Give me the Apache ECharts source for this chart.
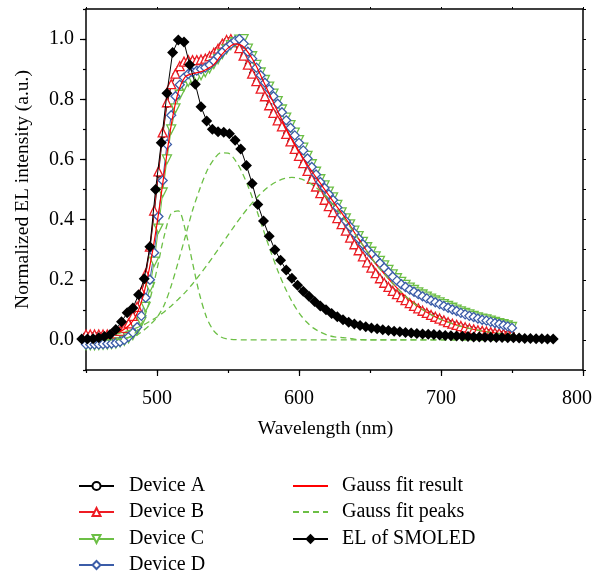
<!DOCTYPE html>
<html><head><meta charset="utf-8">
<script src="https://cdn.jsdelivr.net/npm/echarts@6/dist/echarts.min.js"></script>
<style>html,body{margin:0;padding:0;background:#fff}#c{width:596px;height:574px}</style>
</head><body><div id="c"></div>
<script>
// wavelength grid (nm) for device spectra, every 3 nm
var wlDev = [450,453,456,459,462,465,468,471,474,477,
480,483,486,489,492,495,498,501,504,507,
510,513,516,519,522,525,528,531,534,537,
540,543,546,549,552,555,558,561,564,567,
570,573,576,579,582,585,588,591,594,597,
600,603,606,609,612,615,618,621,624,627,
630,633,636,639,642,645,648,651,654,657,
660,663,666,669,672,675,678,681,684,687,
690,693,696,699,702,705,708,711,714,717,
720,723,726,729,732,735,738,741,744,747,
750];
var devA = [0.016,0.016,0.016,0.016,0.016,0.016,0.017,0.02,0.028,0.038,
0.052,0.076,0.106,0.155,0.214,0.303,0.42,0.55,0.68,0.782,
0.845,0.88,0.905,0.92,0.926,0.927,0.928,0.93,0.933,0.941,
0.952,0.966,0.982,0.994,0.998,0.99,0.97,0.944,0.914,0.884,
0.858,0.833,0.808,0.779,0.754,0.729,0.708,0.684,0.659,0.634,
0.611,0.587,0.561,0.534,0.509,0.487,0.465,0.444,0.424,0.404,
0.384,0.362,0.339,0.317,0.297,0.277,0.257,0.239,0.221,0.204,
0.189,0.175,0.162,0.151,0.141,0.131,0.121,0.112,0.104,0.096,
0.089,0.082,0.076,0.07,0.064,0.058,0.053,0.049,0.045,0.041,
0.037,0.034,0.031,0.029,0.027,0.025,0.023,0.021,0.02,0.019,
0.018];
var devB = [0.018,0.018,0.018,0.018,0.018,0.018,0.019,0.022,0.03,0.04,
0.055,0.08,0.11,0.16,0.22,0.31,0.43,0.56,0.69,0.79,
0.85,0.885,0.91,0.925,0.93,0.93,0.93,0.932,0.935,0.943,
0.955,0.968,0.985,0.997,1.0,0.99,0.97,0.945,0.915,0.885,
0.86,0.835,0.81,0.78,0.755,0.73,0.71,0.685,0.66,0.635,
0.612,0.588,0.562,0.535,0.51,0.488,0.466,0.445,0.425,0.405,
0.385,0.363,0.34,0.318,0.298,0.278,0.258,0.24,0.222,0.205,
0.19,0.176,0.163,0.152,0.142,0.132,0.122,0.113,0.105,0.097,
0.09,0.083,0.077,0.071,0.065,0.059,0.054,0.05,0.046,0.042,
0.038,0.035,0.032,0.03,0.028,0.026,0.024,0.022,0.021,0.02,
0.019];
var devC = [-0.018,-0.018,-0.018,-0.017,-0.016,-0.015,-0.014,-0.012,-0.008,-0.003,
0.005,0.016,0.032,0.06,0.11,0.175,0.26,0.37,0.49,0.6,
0.7,0.77,0.815,0.842,0.858,0.865,0.872,0.88,0.89,0.902,
0.917,0.933,0.95,0.966,0.98,0.99,0.998,1.0,0.968,0.943,
0.914,0.889,0.864,0.842,0.819,0.794,0.766,0.739,0.714,0.689,
0.664,0.639,0.612,0.584,0.559,0.534,0.514,0.493,0.474,0.449,
0.424,0.404,0.384,0.363,0.345,0.326,0.308,0.293,0.278,0.263,
0.248,0.233,0.218,0.205,0.193,0.183,0.174,0.166,0.158,0.151,
0.144,0.137,0.131,0.125,0.119,0.113,0.107,0.101,0.095,0.09,
0.085,0.08,0.075,0.071,0.068,0.064,0.06,0.056,0.052,0.048,
0.043];
var devD = [-0.015,-0.015,-0.015,-0.015,-0.014,-0.013,-0.012,-0.01,-0.006,0.0,
0.01,0.024,0.042,0.08,0.14,0.2,0.29,0.41,0.53,0.65,
0.747,0.81,0.848,0.872,0.884,0.89,0.895,0.9,0.905,0.914,
0.927,0.942,0.957,0.971,0.983,0.994,1.0,0.985,0.958,0.935,
0.905,0.88,0.855,0.833,0.81,0.785,0.757,0.73,0.705,0.68,
0.655,0.63,0.603,0.575,0.55,0.525,0.505,0.484,0.465,0.44,
0.415,0.395,0.376,0.355,0.337,0.318,0.3,0.285,0.27,0.255,
0.24,0.225,0.21,0.197,0.185,0.176,0.167,0.16,0.152,0.145,
0.138,0.131,0.125,0.119,0.113,0.107,0.101,0.096,0.09,0.085,
0.08,0.076,0.071,0.067,0.064,0.06,0.056,0.053,0.049,0.045,
0.04];
// Gauss fit grid, every 5 nm
var wlFit = [450,455,460,465,470,475,480,485,490,495,
500,505,510,515,520,525,530,535,540,545,
550,555,560,565,570,575,580,585,590,595,
600,605,610,615,620,625,630,635,640,645,
650,655,660,665,670,675,680,685,690,695,
700,705,710,715,720,725,730,735,740,745,
750];
var fitResult = [0.006,0.008,0.011,0.015,0.021,0.03,0.047,0.078,0.142,0.246,
0.386,0.552,0.714,0.824,0.875,0.885,0.89,0.9,0.915,0.945,
0.97,0.984,0.978,0.95,0.91,0.859,0.809,0.759,0.712,0.668,
0.627,0.589,0.554,0.521,0.487,0.454,0.422,0.388,0.35,0.315,
0.28,0.247,0.22,0.193,0.168,0.145,0.125,0.107,0.092,0.079,
0.068,0.059,0.051,0.044,0.038,0.033,0.029,0.025,0.022,0.019,
0.017];
var peak1 = [0,0,0,0,0.0005,0.002,0.008,0.025,0.063,0.134,
0.235,0.344,0.421,0.429,0.364,0.257,0.151,0.074,0.03,0.01,
0.003,0.001,0,0,0,0,0,0,0,0,
0,0,0,0,0,0,0,0,0,0,
0,0,0,0,0,0,0,0,0,0,
0,0,0,0,0,0,0,0,0,0,
0];
var peak2 = [0,0,0.001,0.001,0.002,0.004,0.008,0.014,0.03,0.05,
0.075,0.115,0.18,0.26,0.345,0.43,0.5,0.56,0.6,0.622,
0.621,0.598,0.556,0.5,0.434,0.364,0.295,0.231,0.175,0.128,
0.09,0.061,0.04,0.026,0.016,0.01,0.008,0.006,0.002,0.001,
0,0,0,0,0,0,0,0,0,0,
0,0,0,0,0,0,0,0,0,0,
0];
var peak3 = [0.006,0.008,0.01,0.014,0.018,0.024,0.031,0.039,0.049,0.062,
0.076,0.093,0.113,0.135,0.159,0.186,0.216,0.247,0.28,0.314,
0.348,0.382,0.414,0.444,0.471,0.495,0.514,0.528,0.537,0.54,
0.537,0.528,0.514,0.495,0.471,0.444,0.414,0.382,0.348,0.314,
0.28,0.247,0.22,0.193,0.168,0.145,0.125,0.107,0.092,0.079,
0.068,0.059,0.051,0.044,0.038,0.033,0.029,0.025,0.022,0.019,
0.017];
// EL of SMOLED, every 4 nm
var wlEL = [447,451,455,459,463,467,471,475,479,483,
487,491,495,499,503,507,511,515,519,523,
527,531,535,539,543,547,551,555,559,563,
567,571,575,579,583,587,591,595,599,603,
607,611,615,619,623,627,631,635,639,643,
647,651,655,659,663,667,671,675,679,683,
687,691,695,699,703,707,711,715,719,723,
727,731,735,739,743,747,751,755,759,763,
767,771,775,779];
var elSmoled = [0.003,0.003,0.004,0.007,0.011,0.018,0.035,0.06,0.09,0.106,
0.15,0.203,0.31,0.5,0.655,0.82,0.955,0.997,0.99,0.915,
0.85,0.775,0.728,0.7,0.692,0.69,0.685,0.664,0.635,0.58,
0.52,0.45,0.395,0.345,0.3,0.265,0.232,0.205,0.182,0.162,
0.145,0.128,0.113,0.1,0.088,0.077,0.067,0.059,0.053,0.048,
0.044,0.04,0.037,0.034,0.031,0.029,0.027,0.025,0.023,0.021,
0.02,0.019,0.018,0.016,0.015,0.014,0.013,0.012,0.011,0.01,
0.01,0.009,0.009,0.008,0.008,0.007,0.007,0.006,0.005,0.005,
0.004,0.004,0.003,0.003];
var xMajor = [500,600,700,800];
var yMajor = [0,0.2,0.4,0.6,0.8,1.0];
var legendCol1 = ['Device A','Device B','Device C','Device D'];
var legendCol2 = ['Gauss fit result','Gauss fit peaks','EL of SMOLED'];

function pairs(xs, ys){ return xs.map(function(x,i){ return [x, ys[i]]; }); }

var FONT = 'Liberation Serif';
var RED = '#ee1c24', GREEN = '#6cbf45', BLUE = '#3b5ca8';

function dev(name, ys, sym, color, size, rot){
  return { name: name, type:'line', data: pairs(wlDev, ys), symbol: sym, symbolSize: size,
    symbolRotate: rot || 0, showAllSymbol: true,
    itemStyle: { color:'#fff', borderColor: color, borderWidth: 1.3 },
    lineStyle: { color: color, width: 1 }, z: 2 };
}
function peak(ys){
  return { name:'Gauss fit peaks', type:'line', data: pairs(wlFit, ys), symbol:'none', smooth: 0.3,
    lineStyle: { color: GREEN, width: 1.3, type: [6,4] }, itemStyle:{color:GREEN}, z: 4 };
}

// one legend component per entry so rows sit exactly
var rowTops = [476, 502, 529, 555];
var legends = [];
legendCol1.forEach(function(n, i){
  legends.push({ data:[n], left: 78, top: rowTops[i], padding: 0, itemWidth: 35, itemHeight: 10,
    textStyle: { color:'#000', fontFamily: FONT, fontSize: 20, padding:[0,0,0,10] } });
});
legendCol2.forEach(function(n, i){
  var item = (n === 'EL of SMOLED') ? n : { name: n, itemStyle: { opacity: 0 } };
  legends.push({ data:[item], left: 292, top: rowTops[i], padding: 0, itemWidth: 35, itemHeight: 13,
    textStyle: { color:'#000', fontFamily: FONT, fontSize: 20, padding:[0,0,0,9] } });
});

var chart = echarts.init(document.getElementById('c'), null, {renderer:'canvas'});
chart.setOption({
  animation: false,
  backgroundColor: '#fff',
  grid: { left: 86, right: 13, top: 9, bottom: 204, containLabel: false, outerBoundsMode: 'none' },
  xAxis: [
    { type:'value', position:'bottom', min:450, max:800, interval:50,
      name:'Wavelength (nm)', nameLocation:'middle', nameGap: 49,
      nameTextStyle: { color:'#000', fontFamily: FONT, fontSize: 19.5, padding:[0,18,0,0] },
      axisLine: { show:true, onZero:false, lineStyle:{ color:'#000', width:1.5 } },
      axisTick: { show:true, customValues: xMajor, length: 6, lineStyle:{color:'#000', width:1.2} },
      axisLabel: { customValues: xMajor, margin: 19, color:'#000', fontFamily: FONT, fontSize: 20,
        formatter: function(v){ return v === 800 ? '{r|800}' : String(v); },
        rich: { r: { fontFamily: FONT, fontSize: 20, color:'#000', padding:[0,12,0,0] } } },
      splitLine: { show:false } },
    { type:'value', position:'bottom', min:450, max:800, interval:50,
      axisLine: { show:false, onZero:false }, axisTick: { show:true, length: 3, lineStyle:{color:'#000', width:1.2} },
      axisLabel: { show:false }, splitLine: { show:false } },
    { type:'value', position:'top', min:450, max:800, interval:50,
      axisLine: { show:true, onZero:false, lineStyle:{ color:'#000', width:1.5 } },
      axisTick: { show:true, length: 2, lineStyle:{color:'#000', width:1} },
      axisLabel: { show:false }, splitLine: { show:false } }
  ],
  yAxis: [
    { type:'value', position:'left', min:-0.1, max:1.1, interval:0.1,
      name:'Normalized EL intensity (a.u.)', nameLocation:'middle', nameGap: 53,
      nameTextStyle: { color:'#000', fontFamily: FONT, fontSize: 19.5 },
      axisLine: { show:true, onZero:false, lineStyle:{ color:'#000', width:1.5 } },
      axisTick: { show:true, customValues: yMajor, length: 6, lineStyle:{color:'#000', width:1.2} },
      axisLabel: { customValues: yMajor, margin: 12, color:'#000', fontFamily: FONT, fontSize: 20,
        formatter: function(v){ return Number(v).toFixed(1); } },
      splitLine: { show:false } },
    { type:'value', position:'left', min:-0.1, max:1.1, interval:0.1,
      axisLine: { show:false, onZero:false }, axisTick: { show:true, length: 3, lineStyle:{color:'#000', width:1.2} },
      axisLabel: { show:false }, splitLine: { show:false } },
    { type:'value', position:'right', min:-0.1, max:1.1, interval:0.1,
      axisLine: { show:true, onZero:false, lineStyle:{ color:'#000', width:1.5 } },
      axisTick: { show:true, length: 3, lineStyle:{color:'#000', width:1} },
      axisLabel: { show:false }, splitLine: { show:false } }
  ],
  legend: legends,
  series: [
    dev('Device A', devA, 'circle', '#000', 5),
    dev('Device B', devB, 'triangle', RED, 9),
    dev('Device C', devC, 'triangle', GREEN, 9, 180),
    dev('Device D', devD, 'diamond', BLUE, 9),
    { name:'Gauss fit result', type:'line', data: pairs(wlFit, fitResult), symbol:'none', smooth: 0.3,
      lineStyle:{ color:'#ff0000', width:1.2 }, itemStyle:{color:'#ff0000'}, z: 3 },
    peak(peak1), peak(peak2), peak(peak3),
    { name:'EL of SMOLED', type:'line', data: pairs(wlEL, elSmoled), symbol:'diamond', symbolSize: 11,
      clip: false, itemStyle:{ color:'#000' }, lineStyle:{ color:'#000', width:1 }, z: 5 }
  ]
});
</script></body></html>
